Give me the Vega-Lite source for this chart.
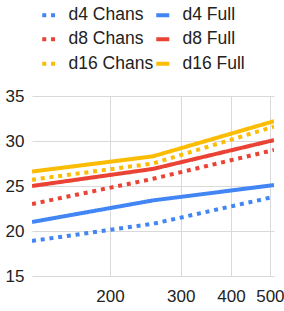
{
  "$schema": "https://vega.github.io/schema/vega-lite/v6.json",
  "width": 242,
  "height": 180,
  "autosize": {"type": "none"},
  "padding": {"left": 32, "top": 96, "right": 10, "bottom": 35},
  "background": "white",
  "config": {
    "view": {"stroke": null},
    "font": "Liberation Sans",
    "axis": {"labelFont": "Liberation Sans", "labelFontSize": 17, "labelColor": "#222222", "gridColor": "#d9d9d9", "gridWidth": 1, "domain": false, "ticks": false, "title": null},
    "legend": {"labelFont": "Liberation Sans", "labelFontSize": 17.5, "labelColor": "#222222"}
  },
  "data": {
    "values": [
      {"series": "d4 Chans", "n": 128, "v": 18.9},
      {"series": "d4 Chans", "n": 256, "v": 20.8},
      {"series": "d4 Chans", "n": 512, "v": 23.8},
      {"series": "d4 Full", "n": 128, "v": 21.0},
      {"series": "d4 Full", "n": 256, "v": 23.4},
      {"series": "d4 Full", "n": 512, "v": 25.1},
      {"series": "d8 Chans", "n": 128, "v": 23.0},
      {"series": "d8 Chans", "n": 256, "v": 25.8},
      {"series": "d8 Chans", "n": 512, "v": 29.0},
      {"series": "d8 Full", "n": 128, "v": 25.0},
      {"series": "d8 Full", "n": 256, "v": 26.9},
      {"series": "d8 Full", "n": 512, "v": 30.1},
      {"series": "d16 Chans", "n": 128, "v": 25.7},
      {"series": "d16 Chans", "n": 256, "v": 27.5},
      {"series": "d16 Chans", "n": 512, "v": 31.6},
      {"series": "d16 Full", "n": 128, "v": 26.6},
      {"series": "d16 Full", "n": 256, "v": 28.3},
      {"series": "d16 Full", "n": 512, "v": 32.2}
    ]
  },
  "mark": {"type": "line", "strokeWidth": 4, "strokeCap": "butt", "clip": true},
  "encoding": {
    "x": {
      "field": "n", "type": "quantitative",
      "scale": {"type": "log", "domain": [128, 512], "nice": false},
      "axis": {"values": [200, 300, 400, 500], "labelPadding": 12, "labelFlush": false, "format": "d"}
    },
    "y": {
      "field": "v", "type": "quantitative",
      "scale": {"domain": [15, 35], "nice": false, "zero": false},
      "axis": {"values": [15, 20, 25, 30, 35], "labelPadding": 8}
    },
    "color": {
      "field": "series", "type": "nominal",
      "scale": {
        "domain": ["d4 Chans", "d8 Chans", "d16 Chans", "d4 Full", "d8 Full", "d16 Full"],
        "range": ["#4285F4", "#EA4335", "#FBBC04", "#4285F4", "#EA4335", "#FBBC04"]
      },
      "legend": {
        "title": null,
        "orient": "none",
        "legendX": 8,
        "legendY": -90,
        "columns": 2,
        "direction": "vertical",
        "columnPadding": -6,
        "rowPadding": 5.5,
        "padding": 0,
        "symbolType": "stroke",
        "symbolSize": 169,
        "symbolStrokeWidth": 4,
        "labelOffset": 11
      }
    },
    "strokeDash": {
      "field": "series", "type": "nominal",
      "scale": {
        "domain": ["d4 Chans", "d8 Chans", "d16 Chans", "d4 Full", "d8 Full", "d16 Full"],
        "range": [[4, 4.8], [4, 4.8], [4, 4.8], [1, 0], [1, 0], [1, 0]]
      },
      "legend": null
    }
  }
}
